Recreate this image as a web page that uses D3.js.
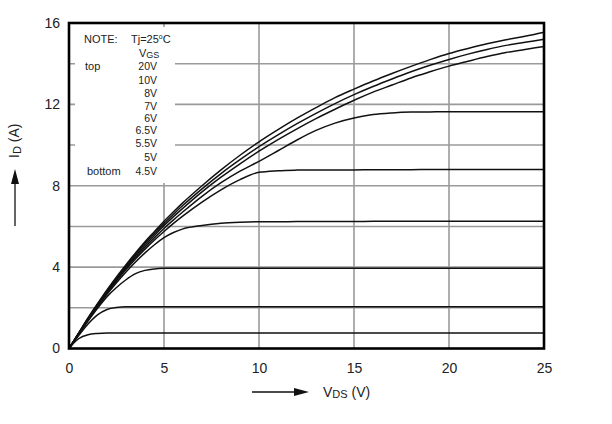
<!DOCTYPE html>
<html>
<head>
<meta charset="utf-8">
<script src="https://cdn.jsdelivr.net/npm/d3@7"></script>
<style>
  html, body { margin: 0; padding: 0; background: #fff; }
  svg { display: block; font-family: "Liberation Sans", Arial, sans-serif; }
</style>
</head>
<body>
<svg id="chart" width="612" height="424"></svg>
<script>
// ---- data ----
const vds = [0,0.5,1,1.5,2,2.5,3,3.5,4,4.5,5,5.5,6,7,8,9,10,11,12,13,14,15,16,17,18,19,20,21,22,23,24,25];
const vgsLabels = ["20V","10V","8V","7V","6V","6.5V","5.5V","5V","4.5V"];
const id20  = [0,0.75,1.5,2.2,2.88,3.52,4.12,4.7,5.25,5.75,6.25,6.72,7.17,8.0,8.78,9.5,10.16,10.76,11.32,11.84,12.33,12.75,13.15,13.52,13.87,14.2,14.5,14.75,14.98,15.18,15.35,15.55];
const id10  = [0,0.74,1.48,2.17,2.84,3.47,4.06,4.63,5.17,5.67,6.15,6.6,7.04,7.85,8.6,9.28,9.92,10.5,11.05,11.56,12.04,12.48,12.88,13.25,13.6,13.92,14.21,14.47,14.7,14.9,15.05,15.2];
const id8   = [0,0.73,1.46,2.14,2.8,3.42,4.0,4.56,5.08,5.57,6.04,6.48,6.9,7.7,8.42,9.08,9.7,10.27,10.8,11.3,11.76,12.2,12.6,12.95,13.3,13.6,13.88,14.12,14.35,14.55,14.7,14.85];
const id7   = [0,0.72,1.44,2.11,2.76,3.37,3.94,4.48,4.98,5.45,5.9,6.32,6.72,7.48,8.15,8.72,9.2,9.72,10.25,10.72,11.08,11.33,11.5,11.58,11.62,11.63,11.64,11.64,11.64,11.64,11.64,11.64];
const id65  = [0,0.71,1.42,2.08,2.72,3.32,3.88,4.4,4.88,5.33,5.75,6.15,6.52,7.2,7.8,8.3,8.66,8.74,8.77,8.78,8.78,8.78,8.79,8.79,8.79,8.8,8.8,8.8,8.8,8.8,8.8,8.8];
const id6   = [0,0.7,1.4,2.05,2.66,3.23,3.76,4.25,4.7,5.1,5.45,5.7,5.88,6.05,6.16,6.21,6.23,6.23,6.24,6.24,6.24,6.24,6.25,6.25,6.25,6.25,6.25,6.25,6.25,6.25,6.25,6.25];
const id55  = [0,0.68,1.35,1.98,2.55,3.0,3.38,3.68,3.84,3.91,3.94,3.95,3.95,3.95,3.95,3.95,3.95,3.95,3.95,3.95,3.95,3.95,3.95,3.95,3.95,3.95,3.95,3.95,3.95,3.95,3.95,3.95];
const id5   = [0,0.62,1.2,1.65,1.92,2.02,2.05,2.05,2.05,2.05,2.05,2.05,2.05,2.05,2.05,2.05,2.05,2.05,2.05,2.05,2.05,2.05,2.05,2.05,2.05,2.05,2.05,2.05,2.05,2.05,2.05,2.05];
const id45  = [0,0.48,0.68,0.74,0.76,0.76,0.76,0.76,0.76,0.76,0.76,0.76,0.76,0.76,0.76,0.76,0.76,0.76,0.76,0.76,0.76,0.76,0.76,0.76,0.76,0.76,0.76,0.76,0.76,0.76,0.76,0.76];
const xTicks = [0,5,10,15,20,25];
const yTicks = [0,4,8,12,16];
const xGrid = [5,10,15,20];
const yGrid = [2,4,6,8,10,12,14];

const seriesList = [id20,id10,id8,id7,id65,id6,id55,id5,id45];

// ---- layout ----
const svg = d3.select("#chart");
const L = 69, R = 544, T = 23, B = 348.5;
const x = d3.scaleLinear().domain([0,25]).range([L,R]);
const y = d3.scaleLinear().domain([0,16]).range([B,T]);

// grid
const grid = svg.append("g").attr("stroke","#9a9a9a").attr("stroke-width",1.6);
grid.selectAll("line.v").data(xGrid).join("line")
  .attr("x1",d=>x(d)).attr("x2",d=>x(d)).attr("y1",T).attr("y2",B);
grid.selectAll("line.h").data(yGrid).join("line")
  .attr("x1",L).attr("x2",R).attr("y1",d=>y(d)).attr("y2",d=>y(d));

// legend background box hiding grid
svg.append("rect").attr("x",75).attr("y",27).attr("width",100).attr("height",156).attr("fill","#fff");

// curves
const line = d3.line().x((d,i)=>x(vds[i])).y(d=>y(d)).curve(d3.curveMonotoneX);
svg.append("g").selectAll("path").data(seriesList).join("path")
  .attr("d",d=>line(d)).attr("fill","none").attr("stroke","#111").attr("stroke-width",1.5);

// frame
svg.append("rect").attr("x",L).attr("y",T).attr("width",R-L).attr("height",B-T)
  .attr("fill","none").attr("stroke","#000").attr("stroke-width",2.6);

// axes
const ax = svg.append("g").attr("transform",`translate(0,${B})`)
  .call(d3.axisBottom(x).tickValues(xTicks).tickSize(0).tickPadding(15).tickFormat(d3.format("d")));
ax.select(".domain").remove();
ax.selectAll("text").attr("font-size",14).attr("fill","#222").attr("font-family","Liberation Sans, Arial, sans-serif");

const ay = svg.append("g").attr("transform",`translate(${L},0)`)
  .call(d3.axisLeft(y).tickValues(yTicks).tickSize(0).tickPadding(9).tickFormat(d3.format("d")));
ay.select(".domain").remove();
ay.selectAll("text").attr("font-size",14).attr("fill","#222").attr("font-family","Liberation Sans, Arial, sans-serif");

// legend text
const lg = svg.append("g").attr("font-size",11).attr("fill","#222");
lg.append("text").attr("x",84).attr("y",43).text("NOTE:");
const tj = lg.append("text").attr("x",131).attr("y",43);
tj.append("tspan").text("Tj=25");
tj.append("tspan").attr("font-size",7).attr("dy",-4).text("o");
tj.append("tspan").attr("dy",4).text("C");
const vg = lg.append("text").attr("x",139).attr("y",56.5);
vg.append("tspan").text("V");
vg.append("tspan").attr("font-size",9).attr("dy",1.5).text("GS");
lg.append("text").attr("x",85).attr("y",70).text("top");
lg.append("text").attr("x",87).attr("y",175).text("bottom");
const legY = [70,83.5,97,110,121.5,133.5,147,160.5,175];
lg.selectAll("text.v").data(vgsLabels).join("text").attr("class","v")
  .attr("x",157).attr("y",(d,i)=>legY[i]).attr("text-anchor","end")
  .attr("font-size",10.5).text(d=>d);

// axis titles
const xt = svg.append("text").attr("x",323).attr("y",397).attr("font-size",14).attr("fill","#222");
xt.append("tspan").text("V");
xt.append("tspan").attr("font-size",11).attr("dy",1).text("DS");
xt.append("tspan").attr("dy",-1).text(" (V)");
svg.append("line").attr("x1",252).attr("x2",296).attr("y1",392).attr("y2",392).attr("stroke","#111").attr("stroke-width",1.3);
svg.append("path").attr("d","M294,388 L309,392 L294,396 Z").attr("fill","#111");

const yt = svg.append("text").attr("transform","translate(19,158) rotate(-90)").attr("font-size",14).attr("fill","#222");
yt.append("tspan").text("I");
yt.append("tspan").attr("font-size",11).attr("dy",2).text("D");
yt.append("tspan").attr("dy",-2).text(" (A)");
svg.append("line").attr("x1",15).attr("x2",15).attr("y1",226).attr("y2",182).attr("stroke","#111").attr("stroke-width",1.3);
svg.append("path").attr("d","M11,184 L15,169 L19,184 Z").attr("fill","#111");
</script>
</body>
</html>
